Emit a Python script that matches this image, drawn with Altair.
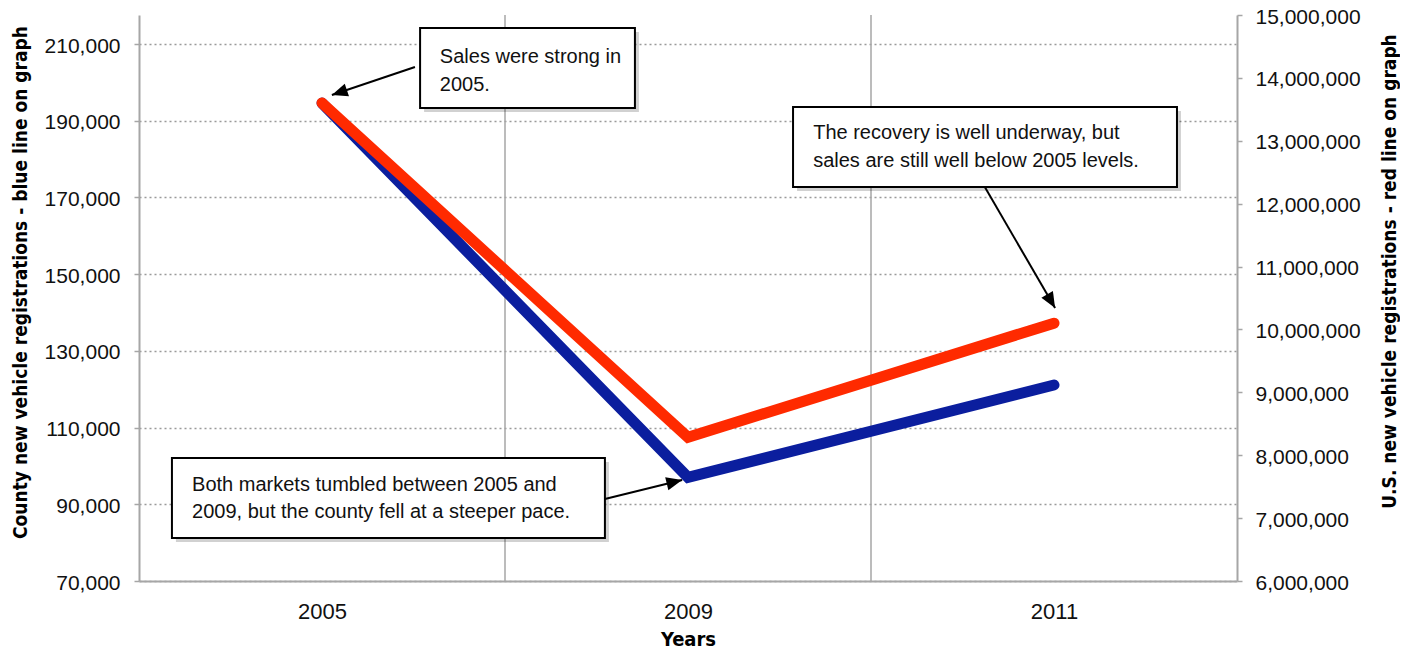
import math
import altair as alt
import pandas as pd

# ---------------- data ----------------
years = ["2005", "2009", "2011"]
county = [194600, 97000, 121100]          # left axis (blue)
us = [13600000, 8285000, 10100000]        # right axis (red)

left_ticks = [70000, 90000, 110000, 130000, 150000, 170000, 190000, 210000]
right_ticks = [6000000, 7000000, 8000000, 9000000, 10000000, 11000000,
               12000000, 13000000, 14000000, 15000000]

left_title = "County new vehicle registrations - blue line on graph"
right_title = "U.S. new vehicle registrations - red line on graph"
x_title = "Years"

# annotation boxes (x in category units, y in left-axis units)
box_x1 = [0.768, 1.787, 0.090]
box_x2 = [1.355, 2.836, 1.273]
box_top = [214180, 193580, 102070]
box_bot = [193320, 172720, 81210]

note_lines = ["Sales were strong in", "2005.",
              "The recovery is well underway, but", "sales are still well below 2005 levels.",
              "Both markets tumbled between 2005 and", "2009, but the county fell at a steeper pace."]
note_x = [0.822, 0.822, 1.842, 1.842, 0.145, 0.145]
note_y = [206620, 199320, 186800, 179500, 95030, 87990]

arrow_x1 = [0.754, 2.311, 1.273]
arrow_y1 = [204010, 172720, 91380]
arrow_x2 = [0.527, 2.503, 1.484]
arrow_y2 = [196710, 141180, 96330]

# ---------------- layout ----------------
W, H = 1098, 566
x_dom = [0, len(years)]
yl_dom = [70000, 217570]
yr_dom = [6000000, 15000000]

BLUE = "#0B1E9E"
RED = "#FF2A00"
GRAY = "#a6a6a6"
LABEL_FONT = "Liberation Sans"
TITLE_FONT = "Liberation Sans Narrow, DejaVu Sans Condensed, Liberation Sans"

px_x = W / (x_dom[1] - x_dom[0])
px_y = H / (yl_dom[1] - yl_dom[0])

df = pd.DataFrame({"pos": [i + 0.5 for i in range(len(years))],
                   "year": years, "county": county, "us": us})
bounds = pd.DataFrame({"b": [i for i in range(1, len(years))]})
boxes = pd.DataFrame({"x1": box_x1, "x2": box_x2, "yt": box_top, "yb": box_bot})
notes = pd.DataFrame({"x": note_x, "y": note_y, "t": note_lines})
angles = []
for a, b, c, d in zip(arrow_x1, arrow_y1, arrow_x2, arrow_y2):
    dx = (c - a) * px_x
    dy = -(d - b) * px_y
    angles.append(math.degrees(math.atan2(dx, -dy)) % 360)
arrows = pd.DataFrame({"x1": arrow_x1, "y1": arrow_y1, "x2": arrow_x2,
                       "y2": arrow_y2, "ang": angles})

label_expr = "[" + ",".join("'%s'" % y for y in years) + "][floor(datum.value)]"

x_axis = alt.Axis(values=[i + 0.5 for i in range(len(years))], labelExpr=label_expr,
                  title=x_title, grid=False, ticks=False, tickSize=0,
                  domainColor=GRAY, domainWidth=2, labelFont=LABEL_FONT,
                  labelFontSize=22, labelColor="#111", labelPadding=20,
                  titleFont=TITLE_FONT, titleFontWeight="bold", titleFontSize=20,
                  titleColor="#000", titleY=58, titleBaseline="middle")

left_axis = alt.Axis(values=left_ticks, labelExpr="format(datum.value, ',')",
                     title=left_title, grid=True,
                     gridDash=[2, 3], gridColor="#9a9a9a", gridWidth=1.5,
                     domainColor=GRAY, domainWidth=2, tickColor=GRAY, tickSize=5,
                     tickWidth=1.5, labelFont=LABEL_FONT, labelFontSize=21,
                     labelColor="#111", labelPadding=14, labelOffset=2,
                     titleFont=TITLE_FONT, titleFontWeight="bold", titleFontSize=19,
                     titleColor="#000", titleAngle=270, titleX=-119, titleY=267,
                     titleAlign="center", titleBaseline="middle")

right_axis = alt.Axis(orient="right", values=right_ticks,
                      labelExpr="format(datum.value, ',')", title=right_title,
                      grid=False, domainColor=GRAY, domainWidth=2, tickColor=GRAY,
                      tickSize=5, tickWidth=1.5, labelFont=LABEL_FONT,
                      labelFontSize=21, labelColor="#111", labelPadding=13,
                      labelOffset=2,
                      titleFont=TITLE_FONT, titleFontWeight="bold", titleFontSize=19,
                      titleColor="#000", titleAngle=270, titleX=152, titleY=256,
                      titleAlign="center", titleBaseline="middle")


def X(field):
    return alt.X(field, type="quantitative",
                 scale=alt.Scale(domain=x_dom, nice=False, zero=False), axis=x_axis)


def YL(field, axis=None):
    return alt.Y(field, type="quantitative",
                 scale=alt.Scale(domain=yl_dom, nice=False, zero=False), axis=axis)


vgrid = alt.Chart(bounds).mark_rule(color=GRAY, strokeWidth=1.5).encode(x=X("b"))

blue = alt.Chart(df).mark_line(color=BLUE, strokeWidth=11, strokeCap="round",
                               strokeJoin="miter").encode(
    x=X("pos"), y=YL("county", left_axis))

red = alt.Chart(df).mark_line(color=RED, strokeWidth=11, strokeCap="round",
                              strokeJoin="miter").encode(
    x=X("pos"),
    y=alt.Y("us:Q", scale=alt.Scale(domain=yr_dom, nice=False, zero=False),
            axis=right_axis))

shadow = alt.Chart(boxes).mark_rect(fill="#000", opacity=0.18, xOffset=4, x2Offset=4,
                                    yOffset=4, y2Offset=4).encode(
    x=X("x1"), x2="x2:Q", y=YL("yt"), y2="yb:Q")

box = alt.Chart(boxes).mark_rect(fill="white", stroke="#000", strokeWidth=2).encode(
    x=X("x1"), x2="x2:Q", y=YL("yt"), y2="yb:Q")

txt = alt.Chart(notes).mark_text(align="left", baseline="middle", font=LABEL_FONT,
                                 fontSize=20, color="#111").encode(
    x=X("x"), y=YL("y"), text="t:N")

shaft = alt.Chart(arrows).mark_rule(color="#000", strokeWidth=2).encode(
    x=X("x1"), x2="x2:Q", y=YL("y1"), y2="y2:Q")

head = alt.Chart(arrows).mark_point(shape="M0,0 L-0.42,1 L0.42,1 Z", filled=True,
                                    size=1000, color="#000", opacity=1).encode(
    x=X("x2"), y=YL("y2"), angle=alt.Angle("ang:Q", scale=None))

chart = alt.layer(vgrid, blue, red, shadow, box, txt, shaft, head).resolve_scale(
    y="independent").properties(
    width=W, height=H,
    padding={"left": 131, "top": 7, "right": 163, "bottom": 72},
    autosize=alt.AutoSizeParams(type="none"),
    background="white",
).configure_view(stroke=None)

chart.save("out.html", embed_options={"renderer": "svg", "actions": False})
